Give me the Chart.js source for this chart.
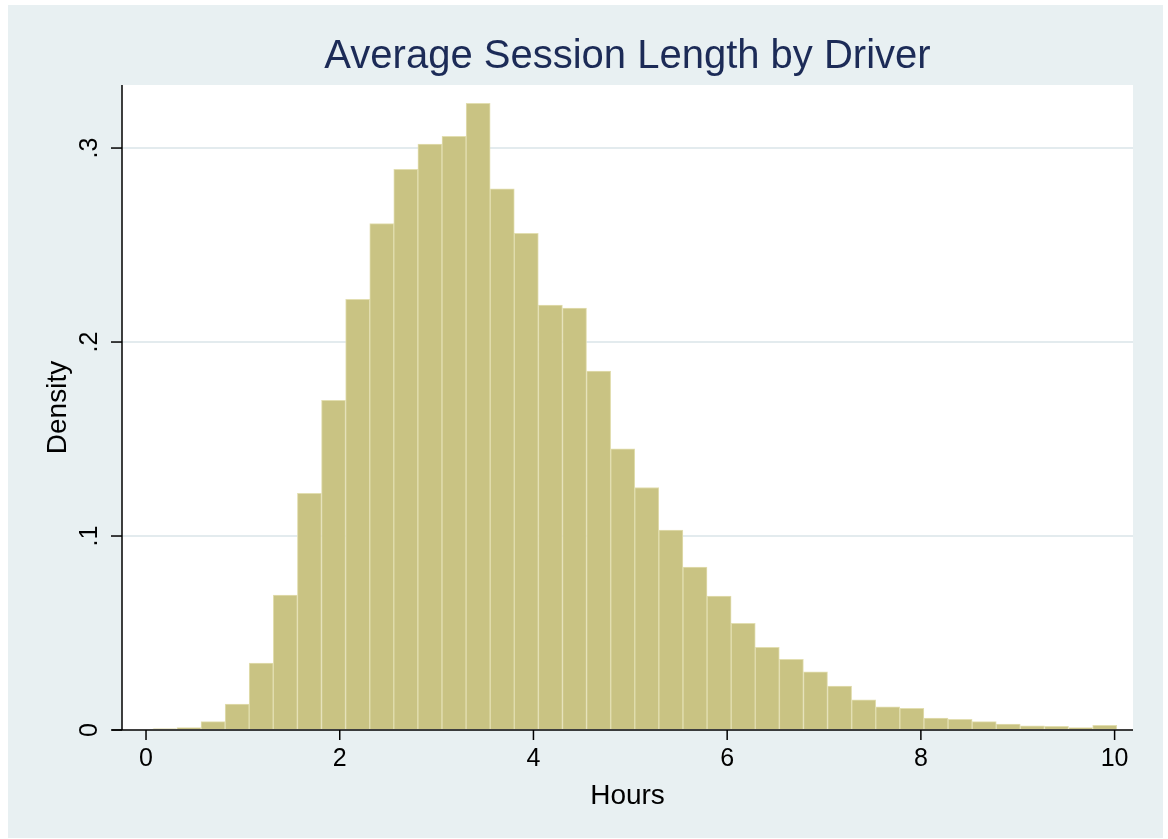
<!DOCTYPE html>
<html>
<head>
<meta charset="utf-8">
<script src="https://cdn.jsdelivr.net/npm/chart.js@4.4.1/dist/chart.umd.min.js"></script>
<style>
  html, body { margin: 0; padding: 0; background: #ffffff; }
  #wrap { width: 1168px; height: 839px; }
</style>
</head>
<body>
<div id="wrap"><canvas id="c" width="1168" height="839"></canvas></div>
<script>
// ---- data ----
const titleText = "Average Session Length by Driver";
const xTitle = "Hours";
const yTitle = "Density";
const binCenters = [0.194, 0.443, 0.692, 0.941, 1.189, 1.438, 1.687, 1.936, 2.185, 2.434,
                    2.682, 2.931, 3.180, 3.429, 3.678, 3.926, 4.175, 4.424, 4.673, 4.922,
                    5.170, 5.419, 5.668, 5.917, 6.166, 6.414, 6.663, 6.912, 7.161, 7.410,
                    7.658, 7.907, 8.156, 8.405, 8.654, 8.902, 9.151, 9.400, 9.649, 9.898];
const density = [0.0006, 0.0013, 0.0043, 0.0134, 0.0345, 0.0696, 0.122, 0.170, 0.222, 0.261,
                 0.289, 0.302, 0.306, 0.323, 0.279, 0.256, 0.219, 0.2175, 0.185, 0.145,
                 0.125, 0.103, 0.084, 0.069, 0.055, 0.0426, 0.0364, 0.030, 0.0227, 0.0155,
                 0.012, 0.0112, 0.0062, 0.0055, 0.0043, 0.0031, 0.0021, 0.0019, 0.0012, 0.0024];
const xTicks = [0, 2, 4, 6, 8, 10];
const xTickLabels = ["0", "2", "4", "6", "8", "10"];
const yTicks = [0, 0.1, 0.2, 0.3];
const yTickLabels = ["0", ".1", ".2", ".3"];

// ---- styles ----
const FONT = '"Liberation Sans", Arial, Helvetica, sans-serif';
const outerBg = '#e8f0f2';
const barFill = '#c9c383';
const barEdge = '#e2deb0';
const gridCol = '#e3ebee';

const stataPlugin = {
  id: 'stata',
  beforeDraw(chart) {
    const ctx = chart.ctx, a = chart.chartArea;
    ctx.save();
    ctx.fillStyle = '#ffffff';
    ctx.fillRect(0, 0, chart.width, chart.height);
    ctx.fillStyle = outerBg;
    ctx.fillRect(8, 5, 1155, 833);
    ctx.fillStyle = '#ffffff';
    ctx.fillRect(a.left, a.top, a.right - a.left, a.bottom - a.top);
    ctx.restore();
  },
  afterDraw(chart) {
    const ctx = chart.ctx, a = chart.chartArea;
    const xs = chart.scales.x, ys = chart.scales.y;
    ctx.save();
    ctx.strokeStyle = '#000000';
    ctx.lineWidth = 1.5;
    // axis lines
    ctx.beginPath();
    ctx.moveTo(112, a.bottom); ctx.lineTo(a.right, a.bottom);
    ctx.moveTo(a.left, a.top); ctx.lineTo(a.left, a.bottom);
    ctx.stroke();
    // x ticks
    ctx.fillStyle = '#000000';
    ctx.font = '25px ' + FONT;
    ctx.textAlign = 'center';
    ctx.textBaseline = 'alphabetic';
    xTicks.forEach((v, i) => {
      const px = xs.getPixelForValue(v);
      ctx.beginPath(); ctx.moveTo(px, a.bottom); ctx.lineTo(px, a.bottom + 10); ctx.stroke();
      ctx.fillText(xTickLabels[i], px, 766);
    });
    // y ticks
    yTicks.forEach((v, i) => {
      const py = ys.getPixelForValue(v);
      ctx.beginPath(); ctx.moveTo(a.left - 11, py); ctx.lineTo(a.left, py); ctx.stroke();
      ctx.save();
      ctx.translate(97, py);
      ctx.rotate(-Math.PI / 2);
      ctx.fillText(yTickLabels[i], 0, 0);
      ctx.restore();
    });
    // axis titles
    ctx.font = '28px ' + FONT;
    ctx.fillText(xTitle, (a.left + a.right) / 2, 804);
    ctx.save();
    ctx.translate(66, (a.top + a.bottom) / 2);
    ctx.rotate(-Math.PI / 2);
    ctx.fillText(yTitle, 0, 0);
    ctx.restore();
    // title
    ctx.fillStyle = '#1c2b57';
    ctx.font = '40px ' + FONT;
    ctx.fillText(titleText, (a.left + a.right) / 2, 68);
    ctx.restore();
  }
};

new Chart(document.getElementById('c'), {
  type: 'bar',
  data: {
    datasets: [{
      data: binCenters.map((x, i) => ({ x: x, y: density[i] })),
      backgroundColor: barFill,
      borderColor: barEdge,
      borderWidth: 1,
      borderSkipped: 'start',
      barPercentage: 1,
      categoryPercentage: 1
    }]
  },
  options: {
    responsive: false,
    devicePixelRatio: 1,
    animation: false,
    layout: { padding: { left: 122, top: 85, right: 35, bottom: 109 } },
    plugins: { legend: { display: false }, title: { display: false }, tooltip: { enabled: false } },
    scales: {
      x: {
        type: 'linear',
        offset: false,
        min: -0.248, max: 10.19,
        afterBuildTicks: s => { s.ticks = xTicks.map(v => ({ value: v })); },
        ticks: { display: false },
        grid: { display: false, drawTicks: false, offset: false },
        border: { display: false }
      },
      y: {
        type: 'linear',
        min: 0, max: 0.3325,
        afterBuildTicks: s => { s.ticks = yTicks.map(v => ({ value: v })); },
        ticks: { display: false },
        grid: {
          drawTicks: false,
          lineWidth: 2,
          color: c => (c.tick && c.tick.value > 0 ? gridCol : 'rgba(0,0,0,0)')
        },
        border: { display: false }
      }
    }
  },
  plugins: [stataPlugin]
});
</script>
</body>
</html>
